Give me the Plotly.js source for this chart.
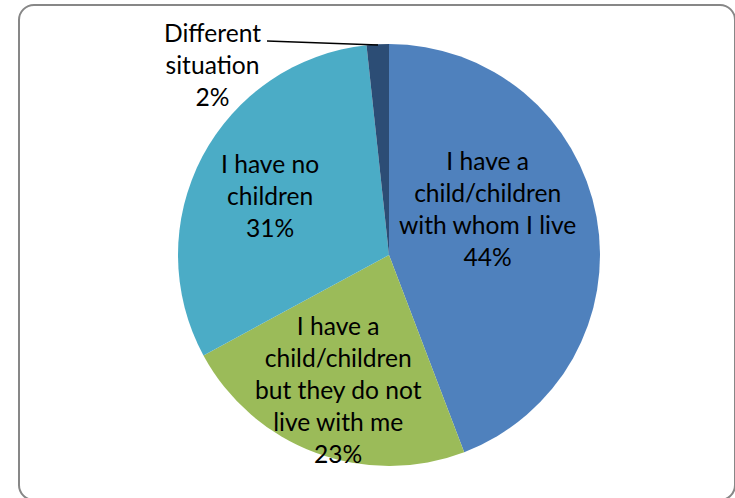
<!DOCTYPE html>
<html>
<head>
<meta charset="utf-8">
<script src="https://cdn.plot.ly/plotly-3.0.1.min.js"></script>
<style>
  html, body { margin: 0; padding: 0; background: #ffffff; }
  #wrap { position: relative; width: 735px; height: 498px; overflow: hidden; }
  #frame { position: absolute; left: 18px; top: 4px; width: 714px; height: 493px;
           border: 2px solid #878787; border-radius: 16px; box-sizing: content-box; pointer-events: none; }
  #chart { position: absolute; left: 0; top: 0; width: 735px; height: 498px; }
</style>
</head>
<body>
<div id="wrap">
  <div id="chart"></div>
  <div id="frame"></div>
</div>
<script>
// Categories (clockwise from 12 o'clock)
const labels = [
  "I have a child/children with whom I live",
  "I have a child/children but they do not live with me",
  "I have no children",
  "Different situation"
];
// Label lines as drawn in the chart
const labelLines = [
  ["I have a", "child/children", "with whom I live"],
  ["I have a", "child/children", "but they do not", "live with me"],
  ["I have no", "children"],
  ["Different", "situation"]
];
// Share of respondents (%)
const values = [44.2, 22.9, 31.2, 1.7];
const colors = ["#4F81BD", "#9BBB59", "#4BACC6", "#2C4D75"];

const W = 735, H = 498;
const cx = 389, cy = 255, R = 211;

// label block centres in pixels
const labelPos = [[487, 208], [338, 389], [270, 195], [213, 64]];

const total = values.reduce((a, b) => a + b, 0);
const annotations = labels.map((l, i) => {
  const pct = Math.round(values[i] / total * 100) + "%";
  return {
    xref: "paper", yref: "paper",
    x: labelPos[i][0] / W, y: 1 - labelPos[i][1] / H,
    xanchor: "center", yanchor: "middle",
    text: labelLines[i].concat([pct]).join("<br>"),
    showarrow: false, align: "center",
    font: { family: "Lato, 'Open Sans', sans-serif", size: 24.6, color: "#000000" }
  };
});

const data = [{
  type: "pie",
  labels: labels,
  values: values,
  sort: false,
  direction: "clockwise",
  rotation: 0,
  textinfo: "none",
  hoverinfo: "label+percent",
  marker: { colors: colors, line: { width: 0 } },
  domain: { x: [(cx - R) / W, (cx + R) / W], y: [1 - (cy + R) / H, 1 - (cy - R) / H] }
}];

const layout = {
  width: W, height: H,
  margin: { l: 0, r: 0, t: 0, b: 0 },
  paper_bgcolor: "rgba(0,0,0,0)",
  plot_bgcolor: "rgba(0,0,0,0)",
  showlegend: false,
  annotations: annotations,
  shapes: [{
    type: "line", xref: "paper", yref: "paper",
    x0: 267 / W, y0: 1 - 41 / H, x1: 378 / W, y1: 1 - 45 / H,
    line: { color: "#000000", width: 1.5 }
  }]
};

Plotly.newPlot("chart", data, layout, { displayModeBar: false, staticPlot: true });
</script>
</body>
</html>
